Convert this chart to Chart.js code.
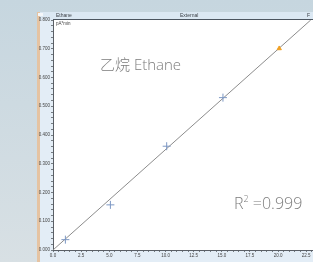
<!DOCTYPE html>
<html>
<head>
<meta charset="utf-8">
<script src="https://cdn.jsdelivr.net/npm/chart.js@4.4.1/dist/chart.umd.min.js"></script>
<style>
  html, body { margin: 0; padding: 0; background: #cfdbe2; }
  #wrap { position: relative; width: 313px; height: 262px; overflow: hidden; }
  #wrap canvas { position: absolute; left: 0; top: 0; }
  .t { position: absolute; white-space: nowrap; font-family: "Liberation Sans", Arial, sans-serif; line-height: 1; }
  .hdr { font-size: 5px; color: #3a3f45; top: 13px; }
  .big { font-family: "Open Sans", "Noto Sans CJK SC", sans-serif; font-weight: 300; color: #7c7c7c; }
  .big sup { font-size: 9px; vertical-align: 7px; line-height: 0; }
</style>
</head>
<body>
<div id="wrap">
  <canvas id="c"></canvas>
  <div class="t hdr" style="left:56px;">Ethane</div>
  <div class="t hdr" style="left:180px;">External</div>
  <div class="t hdr" style="left:307px;">F</div>
  <div class="t" style="left:56px; top:22px; font-size:4.5px; color:#444;">pA*min</div>
  <div class="t big" style="left:100px; top:56px; font-size:15px;"><span style="font-family:'Noto Sans CJK SC',sans-serif;font-weight:300;">乙烷</span> Ethane</div>
  <div class="t big" style="left:234px; top:195px; font-size:16px;">R<sup>2</sup> =0.999</div>
</div>
<script>
// ---- data ----
const amounts = [1.1, 5.1, 10.1, 15.1, 20.1];          // x: amount
const areas   = [0.036, 0.157, 0.361, 0.530, 0.701];   // y: area (pA*min)
const fitX = [0, 22.9];                                // calibration line ends
const fitY = [0, 0.8];
const xMajorTicks = [0, 2.5, 5, 7.5, 10, 12.5, 15, 17.5, 20, 22.5];
const yMajorTicks = [0, 0.1, 0.2, 0.3, 0.4, 0.5, 0.6, 0.7, 0.8];
const xMinorStep = 0.5;
const yMinorStep = 0.02;
const xMax = 23.1;
const yMax = 0.8;

const pointColors = amounts.map((_, i) => i === amounts.length - 1 ? '#f0a024' : '#7d98c4');
const pointStyles = amounts.map((_, i) => i === amounts.length - 1 ? 'triangle' : 'cross');
const pointRadii  = amounts.map((_, i) => i === amounts.length - 1 ? 2.5 : 4);

function buildTicks(max, step) {
  const out = [];
  const n = Math.floor(max / step + 1e-9);
  for (let i = 0; i <= n; i++) out.push({ value: +(i * step).toFixed(6) });
  return out;
}
function isMajor(v, majors) { return majors.some(m => Math.abs(m - v) < 1e-6); }

const bgPlugin = {
  id: 'bg',
  beforeDraw(chart) {
    const { ctx, chartArea: a, width: W, height: H } = chart;
    ctx.save();
    const g = ctx.createLinearGradient(0, 0, 0, H);
    g.addColorStop(0, '#c6d6df');
    g.addColorStop(1, '#d8e0e4');
    ctx.fillStyle = g; ctx.fillRect(0, 0, W, H);
    // header bar
    ctx.fillStyle = '#dbe8f3'; ctx.fillRect(40, 12, W - 40, a.top - 12);
    // y axis panel
    ctx.fillStyle = '#e3edf6'; ctx.fillRect(40, a.top, a.left - 40, H - a.top);
    // bottom axis panel
    ctx.fillStyle = '#e3edf6'; ctx.fillRect(a.left, a.bottom, W - a.left, H - a.bottom);
    // orange stripe
    ctx.fillStyle = '#e5c3a2'; ctx.fillRect(37, 12, 3, H - 12);
    ctx.fillStyle = '#f4f7fa'; ctx.fillRect(38, 13, 5, 3);
    // plot area
    ctx.fillStyle = '#ffffff'; ctx.fillRect(a.left, a.top, a.right - a.left, a.bottom - a.top);
    // dark line under header
    ctx.strokeStyle = '#4b5560'; ctx.lineWidth = 1;
    ctx.beginPath(); ctx.moveTo(a.left, a.top - 0.5); ctx.lineTo(W, a.top - 0.5); ctx.stroke();
    ctx.restore();
  }
};

new Chart(document.getElementById('c'), {
  type: 'scatter',
  data: {
    datasets: [
      {
        type: 'line',
        data: fitX.map((x, i) => ({ x, y: fitY[i] })),
        borderColor: '#8c8c8c',
        borderWidth: 1,
        pointRadius: 0,
        fill: false,
        order: 2
      },
      {
        data: amounts.map((x, i) => ({ x, y: areas[i] })),
        pointStyle: pointStyles,
        pointRadius: pointRadii,
        borderColor: pointColors,
        backgroundColor: pointColors,
        borderWidth: 1,
        order: 1
      }
    ]
  },
  plugins: [bgPlugin],
  options: {
    responsive: true,
    maintainAspectRatio: false,
    devicePixelRatio: 1,
    animation: false,
    events: [],
    layout: { autoPadding: false, padding: { top: 20, left: 0, right: 0, bottom: 0 } },
    plugins: { legend: { display: false }, tooltip: { enabled: false } },
    scales: {
      x: {
        type: 'linear', min: 0, max: xMax,
        afterBuildTicks: s => { s.ticks = buildTicks(xMax, xMinorStep); },
        afterFit: s => { s.height = 12; },
        border: { display: true, color: '#5a5f66', width: 1 },
        grid: { drawOnChartArea: false, tickLength: 2, tickColor: '#5a5f66', tickWidth: 0.8 },
        ticks: {
          autoSkip: false, maxRotation: 0, padding: 1,
          color: '#444', font: { family: 'Liberation Sans', size: 4.5 },
          callback: v => isMajor(v, xMajorTicks) ? v.toFixed(1) : ''
        }
      },
      y: {
        type: 'linear', min: 0, max: yMax,
        afterBuildTicks: s => { s.ticks = buildTicks(yMax, yMinorStep); },
        afterFit: s => { s.width = 53; },
        border: { display: true, color: '#5a5f66', width: 1 },
        grid: { drawOnChartArea: false, tickLength: 2, tickColor: '#5a5f66', tickWidth: 0.8 },
        ticks: {
          autoSkip: false, padding: 1,
          color: '#444', font: { family: 'Liberation Sans', size: 4.5 },
          callback: v => isMajor(v, yMajorTicks) ? v.toFixed(3) : ''
        }
      }
    }
  }
});
</script>
</body>
</html>
